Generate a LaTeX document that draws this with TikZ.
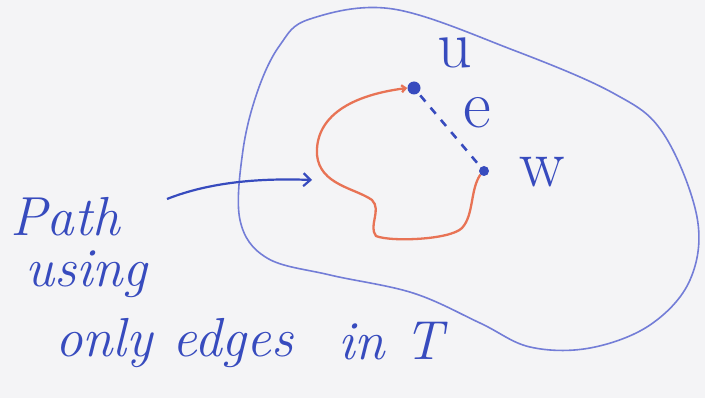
\documentclass[tikz,border=0pt]{standalone}
\usepackage{fontspec}
\setmainfont{Latin Modern Roman}
\usetikzlibrary{arrows.meta}
\definecolor{ink}{RGB}{55,75,190}
\definecolor{blob}{RGB}{115,125,215}
\definecolor{redpath}{RGB}{232,115,85}
\definecolor{paper}{RGB}{244,244,246}
\begin{document}
\begin{tikzpicture}[x=1pt,y=-1pt,
  hand/.style={text=ink,font=\itshape\fontsize{55}{55}\selectfont,inner sep=0pt,anchor=base west},
  vtx/.style={circle,fill=ink,inner sep=0pt,minimum size=13pt},
  lbl/.style={text=ink,font=\fontsize{68}{68}\selectfont,inner sep=0pt}]
\fill[paper] (0,0) rectangle (705,398);
\useasboundingbox (0,0) rectangle (705,398);
% set T region
\draw[blob,line width=1.6pt] plot[smooth cycle,tension=0.6] coordinates {
 (310,19) (393,9) (513,50) (613,93) (663,133) (697,217) (690,280) (650,325)
 (590,348) (530,347) (480,323) (413,293) (330,275) (267,258) (240,220)
 (243,150) (258,90) (280,45)};
% vertices
\node[vtx] (u) at (414,88) {};
\node[vtx,minimum size=10pt] (w) at (484,171) {};
\node[lbl] (lu) at (455,53) {u};
\node[lbl] (le) at (477,113) {e};
\node[lbl] (lw) at (542,172) {w};
% edge e (not in T)
\draw[ink,line width=2.6pt,dash pattern=on 8pt off 8pt,shorten <=3pt,shorten >=3pt] (u) -- (w);
% path in T
\draw[redpath,line width=2.3pt,-{Straight Barb[length=4pt,width=7pt]}]
 (w.south west) .. controls (470,190) and (474,215) .. (462,228)
 .. controls (450,240) and (390,242) .. (376,236)
 .. controls (368,226) and (382,210) .. (372,200)
 .. controls (355,188) and (320,185) .. (317,155)
 .. controls (315,120) and (345,96) .. (u.west);
% labels
\node[hand] (t1) at (10,236) {Path};
\node[hand] (t2) at (25,287) {using};
\node[hand] (t3) at (55,357) {only edges};
\node[hand] (t4) at (338,360) {in T};
\coordinate (a0) at (167,199);
\coordinate (a1) at (312,180);
\draw[ink,line width=2.2pt,-{Straight Barb[length=7pt,width=13pt]}] (a0) .. controls (210,182) and (260,178) .. (a1);
\end{tikzpicture}
\end{document}
